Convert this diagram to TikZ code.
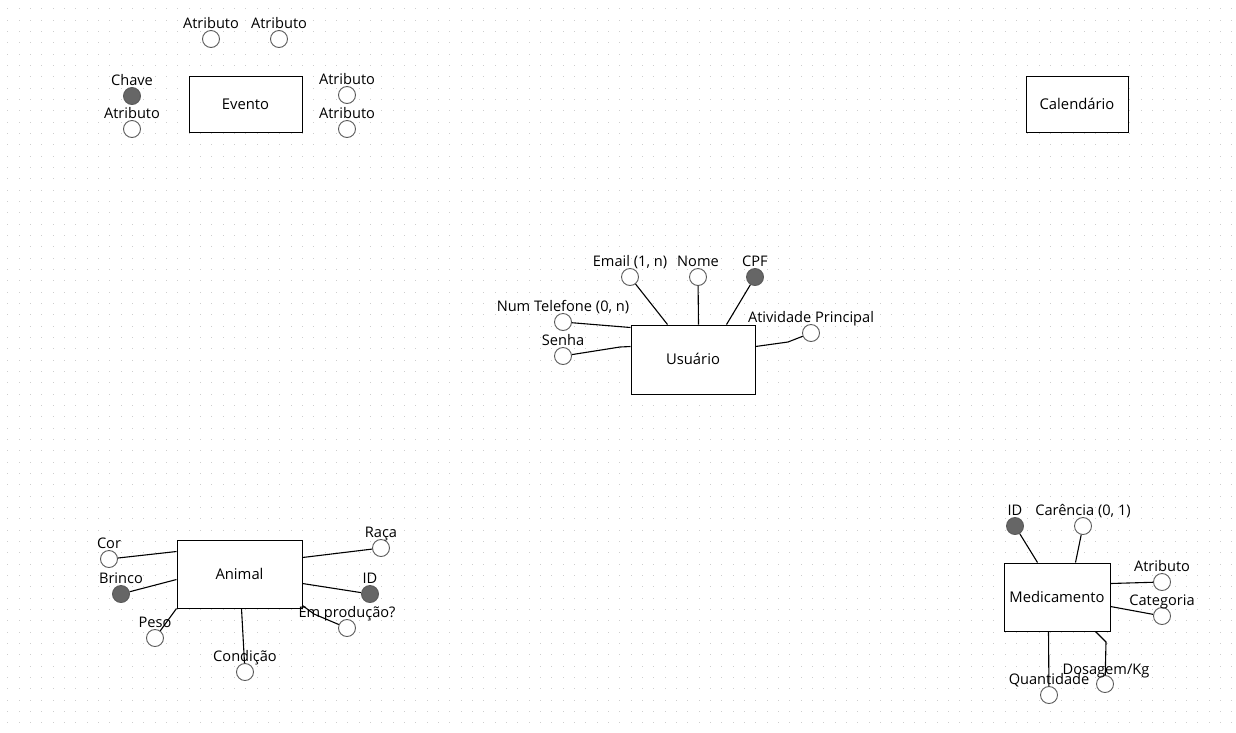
\documentclass[tikz,border=0pt]{standalone}
\usepackage{fontspec}
\setmainfont{Open Sans}
\usetikzlibrary{calc}
\definecolor{circgray}{HTML}{5A5A5A}
\definecolor{keyfill}{HTML}{666666}
\definecolor{dotc}{HTML}{CDCDCD}
\tikzset{
  attr/.style={circle, draw=circgray, fill=white, minimum size=17pt, inner sep=0pt, line width=0.9pt},
  keyattr/.style={attr, fill=keyfill},
  ent/.style={draw=black, line width=1pt, fill=white, inner sep=0pt,
    font=\fontsize{14.8}{16}\selectfont, text height=10.6pt, text depth=0pt},
  lbl/.style={font=\fontsize{14.6}{16}\selectfont, inner sep=0pt, anchor=base},
  conn/.style={line width=1.1pt, draw=black}
}
\begin{document}
\begin{tikzpicture}[x=1pt,y=-1pt]
\useasboundingbox (0,0) rectangle (1236,732);
\fill[white] (0,0) rectangle (1236,732);
% dot grid
\foreach \i in {0,...,108}{
  \foreach \j in {0,...,63}{
    \fill[dotc] ({7.2+11.333*\i},{8.2+11.333*\j}) rectangle +(1.2,1.2);
  }
}

% ---------- Evento ----------
\node[ent, minimum width=113pt, minimum height=56pt] (ev) at (245.5,104) {Evento};
\node[attr] (ea1) at (211,39) {};
\node[attr] (ea2) at (279,39) {};
\node[keyattr] (ek) at (132,96) {};
\node[attr] (ea3) at (132,129) {};
\node[attr] (ea4) at (347,95) {};
\node[attr] (ea5) at (347,129) {};
\node[lbl] (lea1) at (211,28) {Atributo};
\node[lbl] (lea2) at (279,28) {Atributo};
\node[lbl] (lek) at (132,85) {Chave};
\node[lbl] (lea3) at (132,118) {Atributo};
\node[lbl] (lea4) at (347,84) {Atributo};
\node[lbl] (lea5) at (347,118) {Atributo};

% ---------- Calendario ----------
\node[ent, minimum width=102pt, minimum height=56pt] (cal) at (1077,104) {Calendário};

% ---------- Usuario ----------
\node[ent, minimum width=124pt, minimum height=69pt] (usr) at (693,359.5) {Usuário};
\node[attr] (email) at (630,277) {};
\node[attr] (nome) at (698,277) {};
\node[keyattr] (cpf) at (755,277) {};
\node[attr] (tel) at (563,322) {};
\node[attr] (senha) at (563,356) {};
\node[attr] (ativ) at (811,333) {};
\node[lbl] (lemail) at (630,266) {Email (1, n)};
\node[lbl] (lnome) at (698,266) {Nome};
\node[lbl] (lcpf) at (755,266) {CPF};
\node[lbl] (ltel) at (563,311) {Num Telefone (0, n)};
\node[lbl] (lsenha) at (563,345) {Senha};
\node[lbl] (lativ) at (811,322) {Atividade Principal};
\coordinate (sb) at (620,347);
\coordinate (ab) at (788,342);
\draw[conn] (email) -- ($(usr.north west)+(37,0)$);
\draw[conn] (nome) -- ($(usr.north west)+(68,0)$);
\draw[conn] (cpf) -- ($(usr.north west)+(96,0)$);
\draw[conn] (tel) -- ($(usr.north west)+(0,3)$);
\draw[conn] (senha) -- (sb) -- ($(usr.north west)+(0,22)$);
\draw[conn] ($(usr.north east)+(0,22)$) -- (ab) -- (ativ);

% ---------- Animal ----------
\node[ent, minimum width=125pt, minimum height=68pt] (anim) at (239.5,574) {Animal};
\node[attr] (cor) at (109,559) {};
\node[keyattr] (brinco) at (121,594) {};
\node[attr] (peso) at (155,638) {};
\node[attr] (cond) at (245,672) {};
\node[attr] (raca) at (381,548) {};
\node[keyattr] (aid) at (370,594) {};
\node[attr] (prod) at (347,628) {};
\coordinate (pb) at (314,614);
\draw[conn] (cor) -- ($(anim.north west)+(0,12)$);
\draw[conn] (brinco) -- ($(anim.north west)+(0,40)$);
\draw[conn] (anim.south west) -- (peso);
\draw[conn] ($(anim.south west)+(65,0)$) -- (cond);
\draw[conn] ($(anim.north east)+(0,18)$) -- (raca);
\draw[conn] ($(anim.north east)+(0,44)$) -- (aid);
\draw[conn] ($(anim.north east)+(0,66)$) -- (pb) -- (prod);
\node[lbl] (lcor) at (109,548) {Cor};
\node[lbl] (lbrinco) at (121,583) {Brinco};
\node[lbl] (lpeso) at (155,627) {Peso};
\node[lbl] (lcond) at (245,661) {Condição};
\node[lbl] (lraca) at (381,537) {Raça};
\node[lbl] (laid) at (370,583) {ID};
\node[lbl] (lprod) at (347,617) {Em produção?};

% ---------- Medicamento ----------
\node[ent, minimum width=106pt, minimum height=68pt] (med) at (1057,597) {Medicamento};
\node[keyattr] (mid) at (1015,526) {};
\node[attr] (car) at (1083,526) {};
\node[attr] (matr) at (1162,582) {};
\node[attr] (mcat) at (1162,616) {};
\node[attr] (qty) at (1049,695) {};
\node[attr] (dos) at (1105,684) {};
\coordinate (db) at (1106,642);
\draw[conn] (mid) -- ($(med.north west)+(34,0)$);
\draw[conn] (car) -- ($(med.north west)+(72,0)$);
\draw[conn] ($(med.north east)+(0,21)$) -- (matr);
\draw[conn] ($(med.north east)+(0,44)$) -- (mcat);
\draw[conn] ($(med.south west)+(45,0)$) -- (qty);
\draw[conn] ($(med.south west)+(92,0)$) -- (db) -- (dos);
\node[lbl] (lmid) at (1015,515) {ID};
\node[lbl] (lcar) at (1083,515) {Carência (0, 1)};
\node[lbl] (lmatr) at (1162,571) {Atributo};
\node[lbl] (lmcat) at (1162,605) {Categoria};
\node[lbl] (lqty) at (1049,684) {Quantidade};
\node[lbl] (ldos) at (1106,674) {Dosagem/Kg};
\end{tikzpicture}
\end{document}
